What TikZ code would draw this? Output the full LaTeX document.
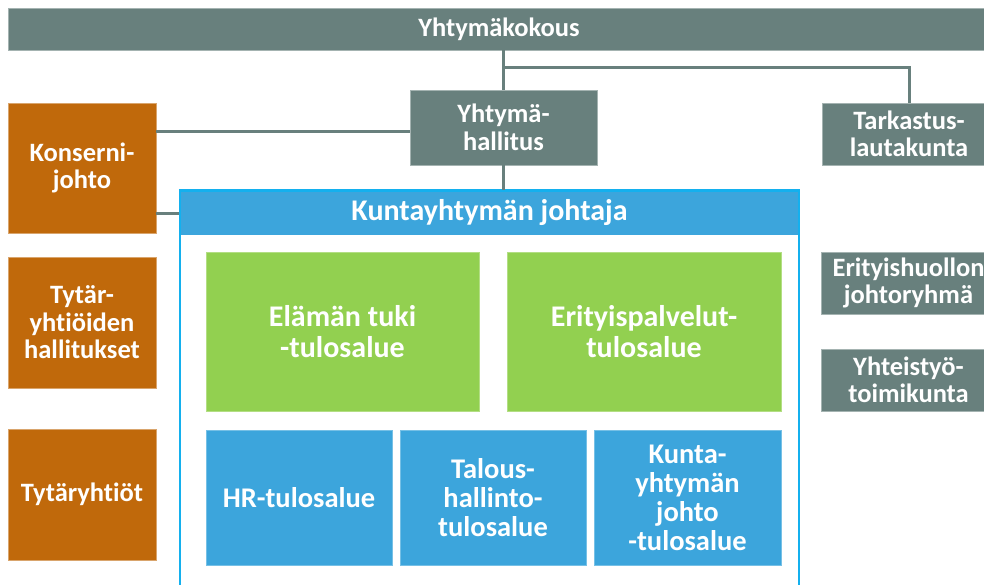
\documentclass[tikz,border=0pt]{standalone}
\usepackage{fontspec}
\setmainfont{Carlito}[Ligatures=NoCommon]

\definecolor{boardgray}{RGB}{104,128,125}
\definecolor{groupbrown}{RGB}{192,105,11}
\definecolor{areagreen}{RGB}{146,208,80}
\definecolor{areablue}{RGB}{60,165,220}
\definecolor{framecyan}{RGB}{20,176,238}

\tikzset{
  orgbox/.style={rectangle, inner sep=0pt, align=center, text=white,
    font=\bfseries\fontsize{26.5}{27.5}\selectfont},
  graybox/.style={orgbox, fill=boardgray, draw=boardgray!60!white, line width=0.6pt},
  brownbox/.style={orgbox, fill=groupbrown, draw=groupbrown!60!white, line width=0.6pt},
  greenbox/.style={orgbox, fill=areagreen, draw=areagreen!70!white, line width=0.6pt,
    font=\bfseries\fontsize{30}{31}\selectfont},
  bluebox/.style={orgbox, fill=areablue, draw=areablue!70!white, line width=0.6pt,
    font=\bfseries\fontsize{28.5}{29}\selectfont},
  orgline/.style={draw=boardgray, line width=3pt}
}

\begin{document}
\begin{tikzpicture}[x=1pt, y=-1pt]
  \useasboundingbox (0, 0) rectangle (984, 584);
  \clip (0, 0) rectangle (984, 584);

  % ylin taso
  \node[graybox, minimum width=982, minimum height=42] (kokous) at (499, 29) {Yhtymäkokous};
  \node[graybox, minimum width=187, minimum height=75] (hallitus) at (503.5, 127.5) {Yhtymä-\\hallitus};
  \node[graybox, minimum width=174, minimum height=62] (tarkastus) at (909, 134) {Tarkastus-\\lautakunta};

  % konserni
  \node[brownbox, minimum width=148, minimum height=130] (konserni) at (82, 168) {Konserni-\\johto};
  \node[brownbox, minimum width=148, minimum height=131] (tytarhall) at (82, 322.5) {Tytär-\\yhtiöiden\\hallitukset};
  \node[brownbox, minimum width=148, minimum height=131] (tytaryht) at (82, 494.5) {Tytäryhtiöt};

  % oikean reunan ryhmät
  \node[graybox, minimum width=175, minimum height=62] (erhuolto) at (908.5, 283) {Erityishuollon\\johtoryhmä};
  \node[graybox, minimum width=175, minimum height=62] (yhteistyo) at (908.5, 380) {Yhteistyö-\\toimikunta};

  % johtajan kehys
  \node[rectangle, draw=framecyan, line width=2.5pt, fill=white, minimum width=619, minimum height=420] (johtaja) at (489.5, 401) {};
  \node[rectangle, fill=areablue, minimum width=617, minimum height=43, inner sep=0pt,
    text=white, font=\bfseries\fontsize{30}{31}\selectfont] (otsikko) at (489.5, 213) {Kuntayhtymän johtaja};
  \draw[framecyan, line width=2.5pt] (johtaja.north west) -- (johtaja.north east);

  % tulosalueet
  \node[greenbox, minimum width=273, minimum height=159] (elama) at (342.5, 331.5) {Elämän tuki\\-tulosalue};
  \node[greenbox, minimum width=274, minimum height=159] (erpalv) at (644, 331.5) {Erityispalvelut-\\tulosalue};
  \node[bluebox, minimum width=186, minimum height=135] (hr) at (299, 497.5) {HR-tulosalue};
  \node[bluebox, minimum width=186, minimum height=135] (talous) at (493, 497.5) {Talous-\\hallinto-\\tulosalue};
  \node[bluebox, minimum width=187, minimum height=135] (kyjohto) at (687.5, 497.5) {Kunta-\\yhtymän\\johto\\-tulosalue};

  % yhteysviivat
  \coordinate (haara) at (hallitus.north |- 0, 67);
  \draw[orgline] (kokous.south -| hallitus.north) -- (hallitus.north);
  \draw[orgline] (haara) -| (tarkastus.north);
  \draw[orgline] (hallitus.south) -- (hallitus.south |- johtaja.north);
  \draw[orgline] (konserni.east |- 0, 131) -- (hallitus.west |- 0, 131);
  \draw[orgline] (konserni.east |- otsikko.west) -- (johtaja.west |- otsikko.west);
\end{tikzpicture}
\end{document}
